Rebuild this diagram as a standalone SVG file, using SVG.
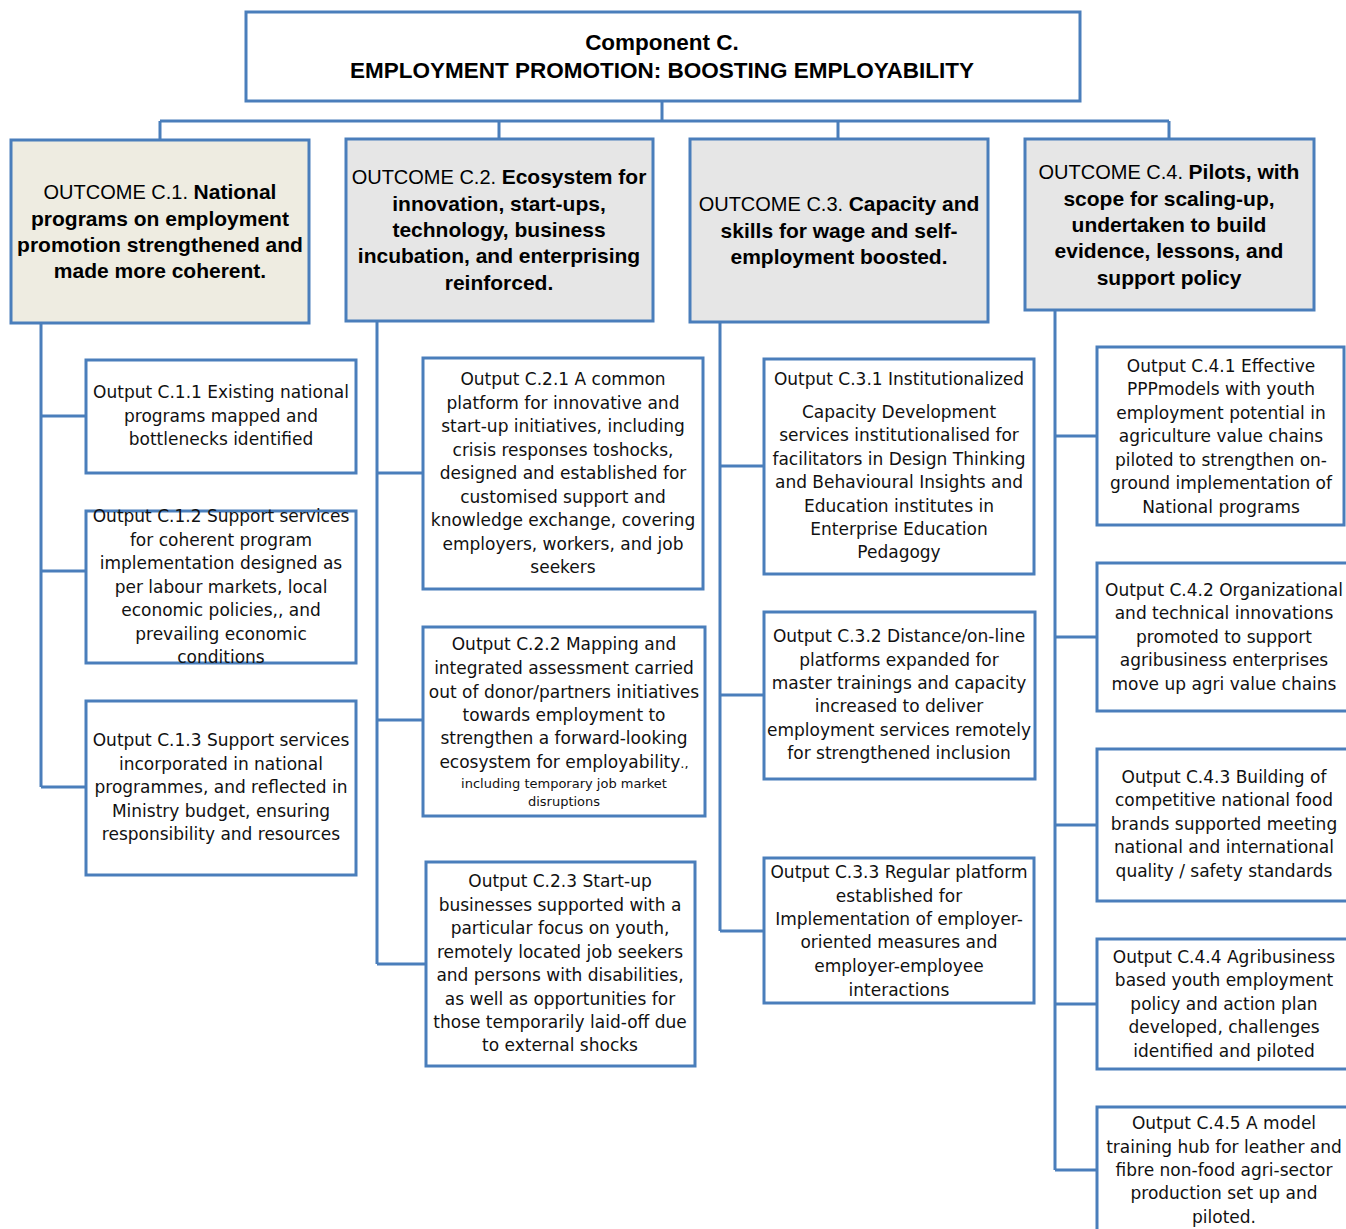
<svg xmlns="http://www.w3.org/2000/svg" width="1346" height="1229" viewBox="0 0 1346 1229">
  <style>
    .box { fill: #ffffff; stroke: #4a7ebb; stroke-width: 3; }
    .beige { fill: #eeece1; }
    .grey { fill: #e6e6e6; }
    .wire { fill: none; stroke: #4a7ebb; stroke-width: 3; }
    .title { font-family: "Liberation Sans", Arial, sans-serif; font-weight: bold; font-size: 22.5px; fill: #000; text-anchor: middle; }
    .oc { font-family: "Liberation Sans", Arial, sans-serif; font-size: 21px; font-weight: bold; fill: #000; text-anchor: middle; }
    .oc .n { font-weight: normal; font-size: 20px; }
    .out { font-family: "DejaVu Sans", Verdana, sans-serif; font-size: 17px; fill: #111; text-anchor: middle; }
    .sm { font-size: 13px; }
  </style>

  <rect width="1346" height="1229" fill="#ffffff"/>

  <!-- connectors -->
  <g id="connectors">
    <path class="wire" d="M662,101 V121 M160,121 H1169 M160,121 V140 M499,121 V139 M838,121 V139 M1169,121 V139"/>
    <!-- C.1 trunk -->
    <path class="wire" d="M41,323 V787 M41,416 H86 M41,571 H86 M41,787 H86"/>
    <!-- C.2 trunk -->
    <path class="wire" d="M377,321 V964 M377,473 H423 M377,720 H423 M377,964 H426"/>
    <!-- C.3 trunk -->
    <path class="wire" d="M720,322 V931 M720,466 H764 M720,695 H764 M720,931 H764"/>
    <!-- C.4 trunk -->
    <path class="wire" d="M1055,310 V1170 M1055,436 H1097 M1055,637 H1097 M1055,825 H1097 M1055,1004 H1097 M1055,1170 H1097"/>
  </g>

  <!-- component header -->
  <g id="component-c">
    <rect class="box" x="246" y="12" width="834" height="89"/>
    <text class="title" x="662" y="50">Component C.</text>
    <text class="title" x="662" y="78">EMPLOYMENT PROMOTION: BOOSTING EMPLOYABILITY</text>
  </g>

  <!-- outcomes -->
  <g id="outcome-c1">
    <rect class="box beige" x="11" y="140" width="298" height="183"/>
    <text class="oc" x="160" y="199"><tspan class="n">OUTCOME C.1. </tspan>National</text>
    <text class="oc" x="160" y="226">programs on employment</text>
    <text class="oc" x="160" y="252">promotion strengthened and</text>
    <text class="oc" x="160" y="278">made more coherent.</text>
  </g>
  <g id="outcome-c2">
    <rect class="box grey" x="346" y="139" width="307" height="182"/>
    <text class="oc" x="499" y="184"><tspan class="n">OUTCOME C.2. </tspan>Ecosystem for</text>
    <text class="oc" x="499" y="211">innovation, start-ups,</text>
    <text class="oc" x="499" y="237">technology, business</text>
    <text class="oc" x="499" y="263">incubation, and enterprising</text>
    <text class="oc" x="499" y="290">reinforced.</text>
  </g>
  <g id="outcome-c3">
    <rect class="box grey" x="690" y="139" width="298" height="183"/>
    <text class="oc" x="839" y="211"><tspan class="n">OUTCOME C.3. </tspan>Capacity and</text>
    <text class="oc" x="839" y="238">skills for wage and self-</text>
    <text class="oc" x="839" y="264">employment boosted.</text>
  </g>
  <g id="outcome-c4">
    <rect class="box grey" x="1025" y="139" width="289" height="171"/>
    <text class="oc" x="1169" y="179"><tspan class="n">OUTCOME C.4. </tspan>Pilots, with</text>
    <text class="oc" x="1169" y="206">scope for scaling-up,</text>
    <text class="oc" x="1169" y="232">undertaken to build</text>
    <text class="oc" x="1169" y="258">evidence, lessons, and</text>
    <text class="oc" x="1169" y="285">support policy</text>
  </g>

  <!-- outputs under C.1 -->
  <g id="output-c11">
    <rect class="box" x="86" y="360" width="270" height="113"/>
    <text class="out" x="221" y="398">Output C.1.1 Existing national</text>
    <text class="out" x="221" y="422">programs mapped and</text>
    <text class="out" x="221" y="445">bottlenecks identified</text>
  </g>
  <g id="output-c12">
    <rect class="box" x="86" y="511" width="270" height="152"/>
    <text class="out" x="221" y="522">Output C.1.2 Support services</text>
    <text class="out" x="221" y="546">for coherent program</text>
    <text class="out" x="221" y="569">implementation designed as</text>
    <text class="out" x="221" y="593">per labour markets, local</text>
    <text class="out" x="221" y="616">economic policies,, and</text>
    <text class="out" x="221" y="640">prevailing economic</text>
    <text class="out" x="221" y="663">conditions</text>
  </g>
  <g id="output-c13">
    <rect class="box" x="86" y="701" width="270" height="174"/>
    <text class="out" x="221" y="746">Output C.1.3 Support services</text>
    <text class="out" x="221" y="770">incorporated in national</text>
    <text class="out" x="221" y="793">programmes, and reflected in</text>
    <text class="out" x="221" y="817">Ministry budget,  ensuring</text>
    <text class="out" x="221" y="840">responsibility and resources</text>
  </g>

  <!-- outputs under C.2 -->
  <g id="output-c21">
    <rect class="box" x="423" y="358" width="280" height="231"/>
    <text class="out" x="563" y="385">Output C.2.1 A common</text>
    <text class="out" x="563" y="409">platform for innovative and</text>
    <text class="out" x="563" y="432">start-up initiatives, including</text>
    <text class="out" x="563" y="456">crisis responses toshocks,</text>
    <text class="out" x="563" y="479">designed and established for</text>
    <text class="out" x="563" y="503">customised support and</text>
    <text class="out" x="563" y="526">knowledge exchange, covering</text>
    <text class="out" x="563" y="550">employers, workers, and job</text>
    <text class="out" x="563" y="573">seekers</text>
  </g>
  <g id="output-c22">
    <rect class="box" x="423" y="627" width="282" height="189"/>
    <text class="out" x="564" y="650">Output C.2.2 Mapping and</text>
    <text class="out" x="564" y="674">integrated assessment carried</text>
    <text class="out" x="564" y="698">out of donor/partners initiatives</text>
    <text class="out" x="564" y="721">towards employment to</text>
    <text class="out" x="564" y="744">strengthen a forward-looking</text>
    <text class="out" x="564" y="768">ecosystem for employability<tspan class="sm">.,</tspan></text>
    <text class="out sm" x="564" y="788">including temporary  job market</text>
    <text class="out sm" x="564" y="806">disruptions</text>
  </g>
  <g id="output-c23">
    <rect class="box" x="426" y="862" width="269" height="204"/>
    <text class="out" x="560" y="887">Output C.2.3 Start-up</text>
    <text class="out" x="560" y="911">businesses supported with a</text>
    <text class="out" x="560" y="934">particular focus on youth,</text>
    <text class="out" x="560" y="958">remotely located job seekers</text>
    <text class="out" x="560" y="981">and persons with disabilities,</text>
    <text class="out" x="560" y="1005">as well as opportunities for</text>
    <text class="out" x="560" y="1028">those temporarily laid-off due</text>
    <text class="out" x="560" y="1051">to external shocks</text>
  </g>

  <!-- outputs under C.3 -->
  <g id="output-c31">
    <rect class="box" x="764" y="359" width="270" height="215"/>
    <text class="out" x="899" y="385">Output C.3.1 Institutionalized</text>
    <text class="out" x="899" y="418">Capacity Development</text>
    <text class="out" x="899" y="441">services institutionalised for</text>
    <text class="out" x="899" y="465">facilitators in Design Thinking</text>
    <text class="out" x="899" y="488">and Behavioural Insights and</text>
    <text class="out" x="899" y="512">Education institutes in</text>
    <text class="out" x="899" y="535">Enterprise Education</text>
    <text class="out" x="899" y="558">Pedagogy</text>
  </g>
  <g id="output-c32">
    <rect class="box" x="764" y="612" width="271" height="167"/>
    <text class="out" x="899" y="642">Output C.3.2 Distance/on-line</text>
    <text class="out" x="899" y="666">platforms expanded for</text>
    <text class="out" x="899" y="689">master trainings and capacity</text>
    <text class="out" x="899" y="712">increased to deliver</text>
    <text class="out" x="899" y="736">employment services remotely</text>
    <text class="out" x="899" y="759">for strengthened inclusion</text>
  </g>
  <g id="output-c33">
    <rect class="box" x="764" y="858" width="270" height="145"/>
    <text class="out" x="899" y="878">Output C.3.3 Regular platform</text>
    <text class="out" x="899" y="902">established for</text>
    <text class="out" x="899" y="925">Implementation of employer-</text>
    <text class="out" x="899" y="948">oriented measures and</text>
    <text class="out" x="899" y="972">employer-employee</text>
    <text class="out" x="899" y="996">interactions</text>
  </g>

  <!-- outputs under C.4 -->
  <g id="output-c41">
    <rect class="box" x="1097" y="347" width="247" height="178"/>
    <text class="out" x="1221" y="372">Output C.4.1 Effective</text>
    <text class="out" x="1221" y="395">PPPmodels with youth</text>
    <text class="out" x="1221" y="419">employment potential in</text>
    <text class="out" x="1221" y="442">agriculture value chains</text>
    <text class="out" x="1221" y="466">piloted to strengthen on-</text>
    <text class="out" x="1221" y="489">ground implementation of</text>
    <text class="out" x="1221" y="513">National programs</text>
  </g>
  <g id="output-c42">
    <rect class="box" x="1097" y="563" width="252" height="148"/>
    <text class="out" x="1224" y="596">Output C.4.2 Organizational</text>
    <text class="out" x="1224" y="619">and technical innovations</text>
    <text class="out" x="1224" y="643">promoted to support</text>
    <text class="out" x="1224" y="666">agribusiness enterprises</text>
    <text class="out" x="1224" y="690">move up agri value chains</text>
  </g>
  <g id="output-c43">
    <rect class="box" x="1097" y="749" width="252" height="152"/>
    <text class="out" x="1224" y="783">Output C.4.3 Building of</text>
    <text class="out" x="1224" y="806">competitive national food</text>
    <text class="out" x="1224" y="830">brands supported meeting</text>
    <text class="out" x="1224" y="853">national and international</text>
    <text class="out" x="1224" y="877">quality / safety standards</text>
  </g>
  <g id="output-c44">
    <rect class="box" x="1097" y="939" width="252" height="130"/>
    <text class="out" x="1224" y="963">Output C.4.4 Agribusiness</text>
    <text class="out" x="1224" y="986">based youth employment</text>
    <text class="out" x="1224" y="1010">policy and action plan</text>
    <text class="out" x="1224" y="1033">developed, challenges</text>
    <text class="out" x="1224" y="1057">identified and piloted</text>
  </g>
  <g id="output-c45">
    <rect class="box" x="1097" y="1107" width="252" height="130"/>
    <text class="out" x="1224" y="1129">Output C.4.5 A model</text>
    <text class="out" x="1224" y="1153">training hub for leather and</text>
    <text class="out" x="1224" y="1176">fibre non-food agri-sector</text>
    <text class="out" x="1224" y="1199">production set up and</text>
    <text class="out" x="1224" y="1223">piloted.</text>
  </g>
</svg>
